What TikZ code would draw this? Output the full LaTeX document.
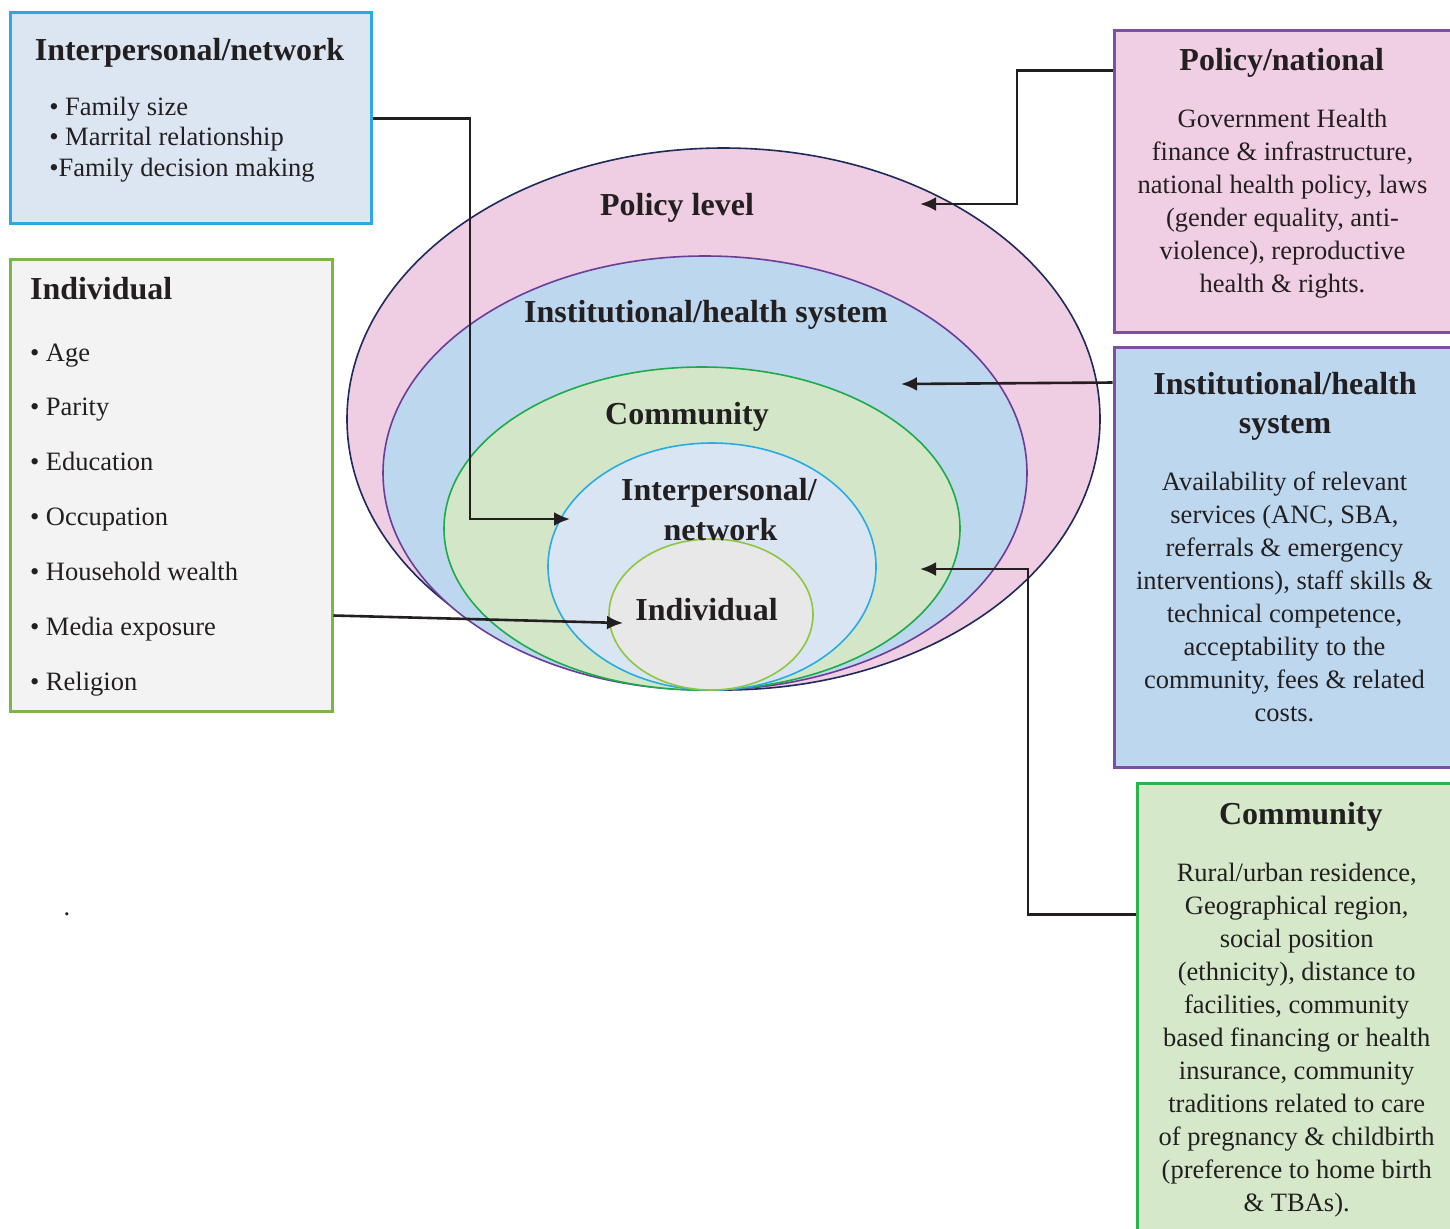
\documentclass[tikz,border=0pt]{standalone}
\usepackage{fontspec}
\setmainfont{Liberation Serif}
\usetikzlibrary{calc,arrows.meta}

\newcommand{\bodysize}{\fontsize{13.25pt}{16.5pt}\selectfont}
\newcommand{\titlesize}{\fontsize{16pt}{19.2pt}\selectfont}

\definecolor{inkcol}{HTML}{231F20}
% ring fills and lines
\definecolor{polfill}{HTML}{EFCDE2}
\definecolor{insfill}{HTML}{BCD7EE}
\definecolor{comfill}{HTML}{D3E7C8}
\definecolor{ipfill}{HTML}{DAE5F3}
\definecolor{indfill}{HTML}{E8E8E8}
\definecolor{polline}{HTML}{1F2A5C}
\definecolor{insline}{HTML}{6A3E98}
\definecolor{comline}{HTML}{1DAA4B}
\definecolor{ipline}{HTML}{29ABE2}
\definecolor{indline}{HTML}{8DC63F}
% boxes
\definecolor{ipboxfill}{HTML}{DCE6F2}
\definecolor{indboxfill}{HTML}{F2F3F2}
\definecolor{polboxfill}{HTML}{F0CEE3}
\definecolor{insboxfill}{HTML}{BDD7EE}
\definecolor{comboxfill}{HTML}{D5E8CA}
\definecolor{indedge}{HTML}{7AB648}
\definecolor{purpleedge}{HTML}{7E4FA0}
\definecolor{comedge}{HTML}{2DB34A}

\begin{document}
\begin{tikzpicture}[x=0.5pt,y=-0.5pt,
	every node/.style={font=\bodysize, text=inkcol},
	box/.style={draw, line width=1.5pt, inner sep=0pt},
	title/.style={font=\titlesize\bfseries, anchor=base},
	ringlabel/.style={font=\titlesize\bfseries, anchor=base},
	link/.style={line width=1.3pt, draw=inkcol, -{Latex[length=8pt,width=7pt]}}]
	\fill[white] (0,0) rectangle (1450,1228);
	\useasboundingbox (0,0) rectangle (1450,1228);
	
	% nested rings
	\filldraw[fill=polfill, draw=polline, line width=0.8pt] (723.5,419) ellipse [x radius=376.5, y radius=271];
	\filldraw[fill=insfill, draw=insline, line width=0.8pt] (705,473) ellipse [x radius=322, y radius=217];
	\filldraw[fill=comfill, draw=comline, line width=0.8pt] (702,528.5) ellipse [x radius=258, y radius=161.5];
	\filldraw[fill=ipfill, draw=ipline, line width=0.8pt] (712,566.5) ellipse [x radius=164, y radius=123.5];
	\filldraw[fill=indfill, draw=indline, line width=0.8pt] (711,614.5) ellipse [x radius=102, y radius=75.5];
	
	\node[ringlabel] (polL) at (677,215) {Policy level};
	\node[ringlabel] (insL) at (706,322) {Institutional/health system};
	\node[ringlabel] (comL) at (687,424) {Community};
	\node[ringlabel] (ipL) at (719,500.7) {Interpersonal/};
	\node[ringlabel] (ipLb) at (720.5,540) {network};
	\node[ringlabel] (indL) at (706.5,620) {Individual};
	
	% boxes
	\node[box, draw=ipline, fill=ipboxfill, minimum width=180.5pt, minimum height=105.5pt] (ipbox) at (190.5,117.5) {};
	\node[box, draw=indedge, fill=indboxfill, minimum width=161pt, minimum height=226pt] (indbox) at (171,485) {};
	\node[box, draw=purpleedge, fill=polboxfill, minimum width=171pt, minimum height=151pt] (polbox) at (1285,181) {};
	\node[box, draw=purpleedge, fill=insboxfill, minimum width=171pt, minimum height=210pt] (insbox) at (1285,557) {};
	\node[box, draw=comedge, fill=comboxfill, minimum width=159.5pt, minimum height=228.5pt] (combox) at (1296.5,1011.5) {};
	
	\node[title] (ipT) at (189.5,60) {Interpersonal/network};
	\node[align=left, font=\fontsize{13.25pt}{15.4pt}\selectfont] (ipX) at (182,139.6)
		{\textbullet\ Family size\\\textbullet\ Marrital relationship\\\textbullet Family decision making};
	
	\node[title, anchor=base west] (indT) at (23,299) {Individual};
	\foreach \entry [count=\i] in {Age, Parity, Education, Occupation, Household wealth, Media exposure, Religion}
		\node[anchor=base west] (ind\i) at (23,{361+(\i-1)*54.9}) {\textbullet\ \entry};
	
	\node[title] (polT) at (1281.7,70.7) {Policy/national};
	\node[align=center] (polX) at (1282.5,203.5) {Government Health\\finance \& infrastructure,\\national health policy, laws\\(gender equality, anti-\\violence), reproductive\\health \& rights.};
	
	\node[align=center, font=\titlesize\bfseries] (insT) at (1285,406.5) {Institutional/health\\system};
	\node[align=center] (insX) at (1284.5,596.5) {Availability of relevant\\services (ANC, SBA,\\referrals \& emergency\\interventions), staff skills \&\\technical competence,\\acceptability to the\\community, fees \& related\\costs.};
	
	\node[title] (comT) at (1300.8,824.5) {Community};
	\node[align=center] (comX) at (1296.7,1040.5) {Rural/urban residence,\\Geographical region,\\social position\\(ethnicity), distance to\\facilities, community\\based financing or health\\insurance, community\\traditions related to care\\of pregnancy \& childbirth\\(preference to home birth\\\& TBAs).};
	
	\node[anchor=base] (dot) at (67,915) {.};
	
	% connectors
	\coordinate (ipend) at (570,519);
	\coordinate (ipbend) at (470,519);
	\coordinate (indend) at (623,623);
	\coordinate (polend) at (920,204);
	\coordinate (polbend) at (1017,204);
	\coordinate (insend) at (901,384);
	\coordinate (comend) at (920,569);
	\coordinate (combend) at (1028,569);
	\draw[link] ($(ipbox.north east)+(0,108)$) -| (ipbend) -- (ipend);
	\draw[link] ($(indbox.south east)+(0,-97)$) -- (indend);
	\draw[link] ($(polbox.north west)+(0,42)$) -| (polbend) -- (polend);
	\draw[link] ($(insbox.north west)+(0,37)$) -- (insend);
	\draw[link] ($(combox.north west)+(0,133)$) -| (combend) -- (comend);
\end{tikzpicture}
\end{document}
